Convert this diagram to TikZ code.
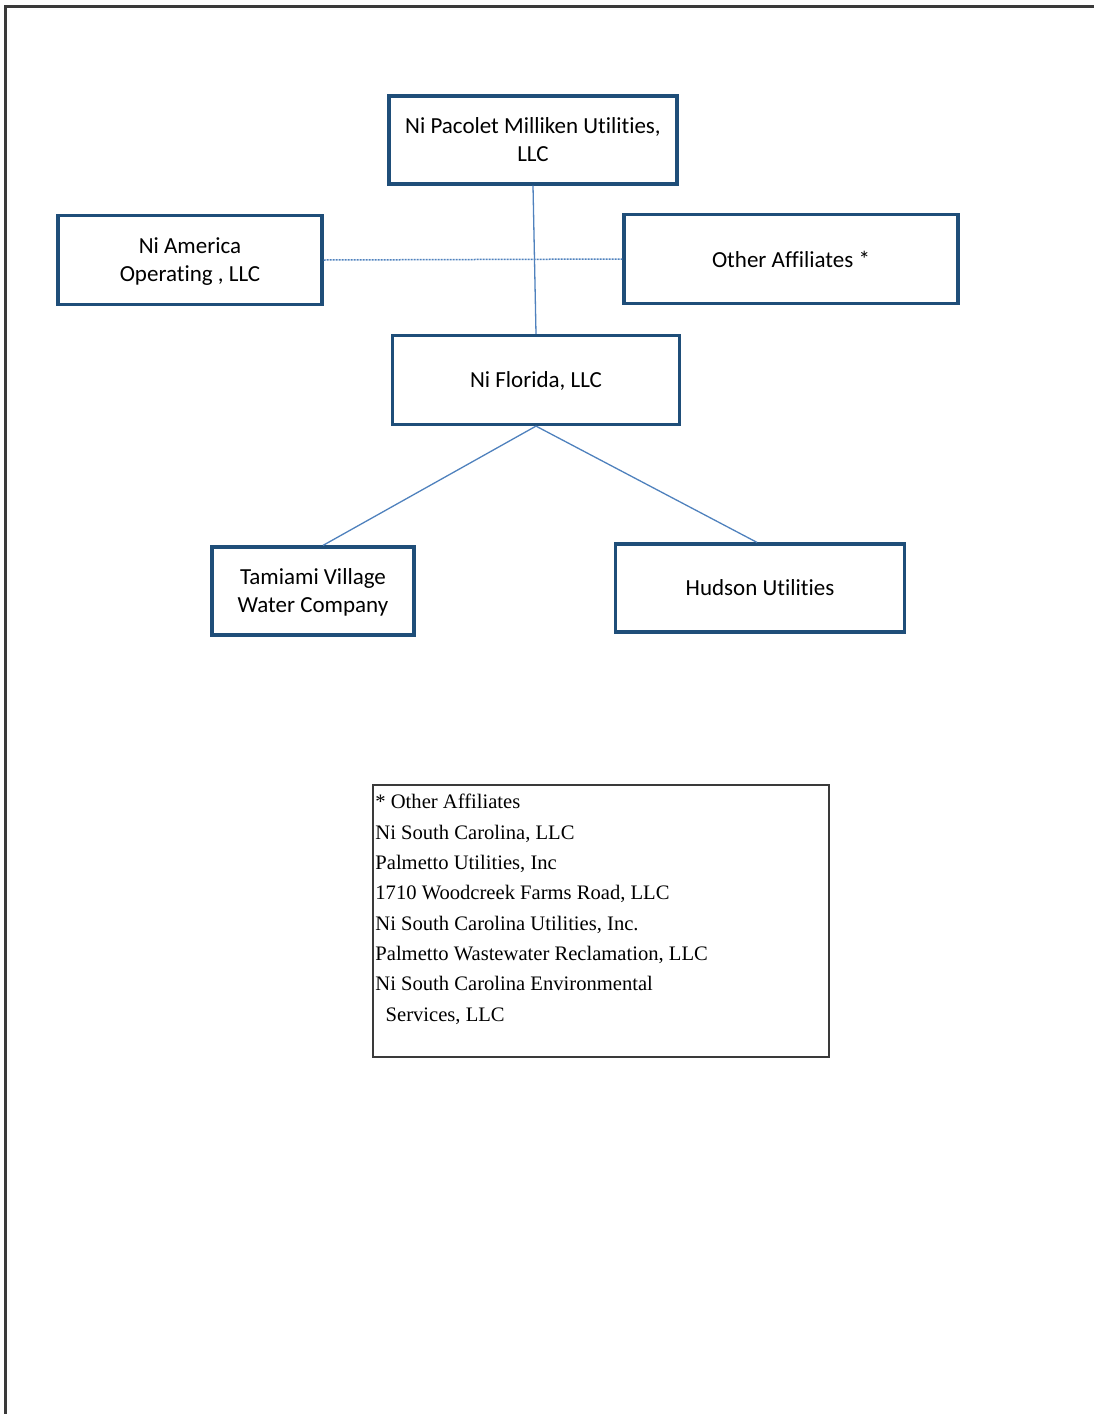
\documentclass[tikz,border=0pt]{standalone}
\usepackage{fontspec}
\setmainfont{Carlito}[Ligatures=NoCommon]
\newfontfamily\legendfont{Liberation Serif}
\definecolor{boxblue}{HTML}{1F4E79}
\definecolor{lineblue}{HTML}{4F81BD}
\definecolor{frame}{HTML}{3A3A3A}
\begin{document}
\begin{tikzpicture}[x=1pt,y=-1pt,
  orgbox/.style={draw=boxblue, line width=3.2pt, rectangle, align=center, inner sep=0pt, text depth=0pt, font=\fontsize{23}{28}\selectfont},
  link/.style={draw=lineblue, line width=1.3pt},
  dashlink/.style={draw=lineblue, line width=1.5pt, dash pattern=on 2pt off 1pt}]
\useasboundingbox (0,0) rectangle (1094,1414);
% page frame
\draw[frame, line width=3pt] (5,1414) -- (5,6) -- (1094,6);
% boxes
\node[orgbox, minimum width=288pt, minimum height=88pt] (top) at (533,140) {Ni Pacolet Milliken Utilities,\\LLC};
\node[orgbox, minimum width=264pt, minimum height=89pt] (amer) at (190,260) {Ni America\\Operating , LLC};
\node[orgbox, minimum width=334pt, minimum height=89pt] (other) at (791,259) {Other Affiliates *};
\node[orgbox, minimum width=287pt, minimum height=89pt] (fl) at (536,380) {Ni Florida, LLC};
\node[orgbox, minimum width=202pt, minimum height=88pt] (tam) at (313,591) {Tamiami Village\\Water Company};
\node[orgbox, minimum width=289pt, minimum height=88pt] (hud) at (760,588) {Hudson Utilities};
% connectors
\draw[link] (top.south) -- (fl.north);
\draw[dashlink] (amer.east) -- (other.west);
\draw[link] (fl.south) -- ([xshift=10pt]tam.north);
\draw[link] (fl.south) -- ([xshift=-3pt]hud.north);
% legend
\node[draw=frame, line width=1.6pt, rectangle, minimum width=456pt, minimum height=272pt, inner sep=0pt] (legend) at (601,921) {};
\node[anchor=north west, align=left, inner sep=0pt, font=\legendfont\fontsize{20.6}{30.3}\selectfont] (legtext) at ([xshift=3pt,yshift=-10pt]legend.north west)
{* Other Affiliates\\
Ni South Carolina, LLC\\
Palmetto Utilities, Inc\\
1710 Woodcreek Farms Road, LLC\\
Ni South Carolina Utilities, Inc.\\
Palmetto Wastewater Reclamation, LLC\\
Ni South Carolina Environmental\\
\ \ Services, LLC};
\end{tikzpicture}
\end{document}
